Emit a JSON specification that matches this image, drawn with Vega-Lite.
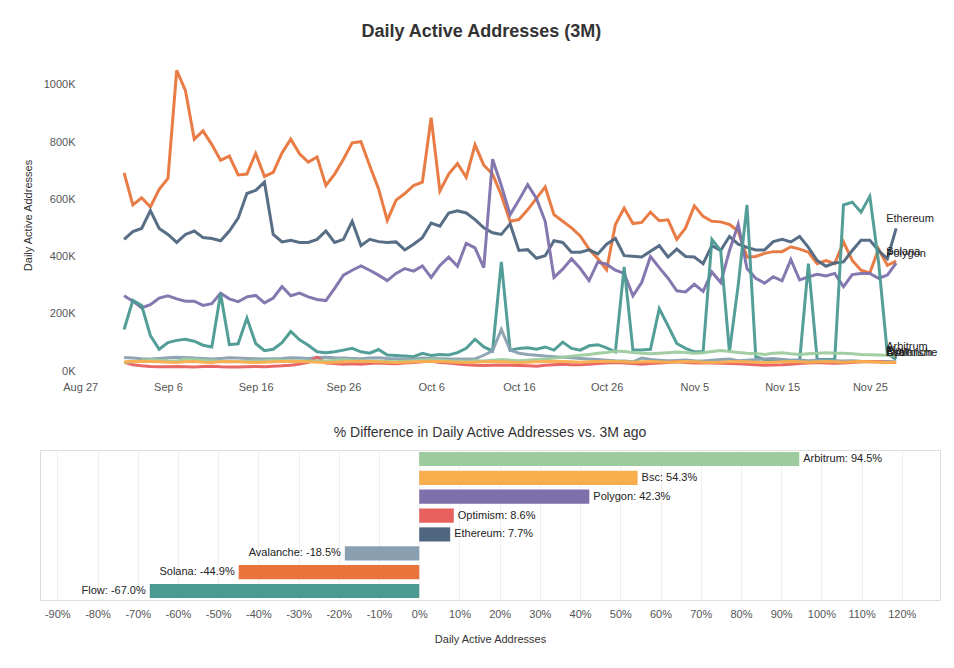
{
  "$schema": "https://vega.github.io/schema/vega-lite/v6.json",
  "background": "white",
  "padding": {"left": 22, "top": 23, "right": 10, "bottom": 10},
  "title": {"text": "Daily Active Addresses (3M)", "fontSize": 18, "fontWeight": "bold", "color": "#333", "font": "Arial", "anchor": "middle", "offset": 18},
  "config": {"font": "Arial", "axis": {"labelColor": "#555", "titleColor": "#333", "labelFontSize": 11, "titleFontSize": 11, "titleFontWeight": "normal"}},
  "datasets": {
    "daily": [
      {"d":"2022-09-01","Solana":692,"Ethereum":460,"Polygon":263,"Flow":145,"Avalanche":47,"Optimism":30,"Arbitrum":30,"Bsc":32},
      {"d":"2022-09-02","Solana":580,"Ethereum":487,"Polygon":244,"Flow":247,"Avalanche":45,"Optimism":22,"Arbitrum":32,"Bsc":33},
      {"d":"2022-09-03","Solana":605,"Ethereum":498,"Polygon":221,"Flow":229,"Avalanche":43,"Optimism":18,"Arbitrum":35,"Bsc":34},
      {"d":"2022-09-04","Solana":573,"Ethereum":560,"Polygon":232,"Flow":124,"Avalanche":42,"Optimism":16,"Arbitrum":40,"Bsc":33},
      {"d":"2022-09-05","Solana":635,"Ethereum":498,"Polygon":255,"Flow":76,"Avalanche":44,"Optimism":15,"Arbitrum":38,"Bsc":32},
      {"d":"2022-09-06","Solana":673,"Ethereum":477,"Polygon":263,"Flow":99,"Avalanche":46,"Optimism":15,"Arbitrum":36,"Bsc":31},
      {"d":"2022-09-07","Solana":1050,"Ethereum":449,"Polygon":252,"Flow":107,"Avalanche":48,"Optimism":16,"Arbitrum":35,"Bsc":30},
      {"d":"2022-09-08","Solana":979,"Ethereum":477,"Polygon":244,"Flow":111,"Avalanche":47,"Optimism":15,"Arbitrum":42,"Bsc":32},
      {"d":"2022-09-09","Solana":810,"Ethereum":489,"Polygon":244,"Flow":104,"Avalanche":45,"Optimism":14,"Arbitrum":40,"Bsc":33},
      {"d":"2022-09-10","Solana":839,"Ethereum":466,"Polygon":229,"Flow":90,"Avalanche":44,"Optimism":16,"Arbitrum":38,"Bsc":31},
      {"d":"2022-09-11","Solana":791,"Ethereum":463,"Polygon":235,"Flow":84,"Avalanche":42,"Optimism":17,"Arbitrum":36,"Bsc":30},
      {"d":"2022-09-12","Solana":736,"Ethereum":455,"Polygon":272,"Flow":270,"Avalanche":44,"Optimism":15,"Arbitrum":34,"Bsc":32},
      {"d":"2022-09-13","Solana":751,"Ethereum":489,"Polygon":252,"Flow":92,"Avalanche":46,"Optimism":14,"Arbitrum":32,"Bsc":33},
      {"d":"2022-09-14","Solana":685,"Ethereum":534,"Polygon":242,"Flow":95,"Avalanche":45,"Optimism":14,"Arbitrum":33,"Bsc":32},
      {"d":"2022-09-15","Solana":688,"Ethereum":620,"Polygon":259,"Flow":185,"Avalanche":44,"Optimism":15,"Arbitrum":34,"Bsc":31},
      {"d":"2022-09-16","Solana":760,"Ethereum":631,"Polygon":264,"Flow":96,"Avalanche":43,"Optimism":16,"Arbitrum":35,"Bsc":30},
      {"d":"2022-09-17","Solana":680,"Ethereum":660,"Polygon":238,"Flow":71,"Avalanche":42,"Optimism":15,"Arbitrum":36,"Bsc":31},
      {"d":"2022-09-18","Solana":694,"Ethereum":477,"Polygon":255,"Flow":76,"Avalanche":43,"Optimism":17,"Arbitrum":38,"Bsc":32},
      {"d":"2022-09-19","Solana":762,"Ethereum":451,"Polygon":295,"Flow":99,"Avalanche":44,"Optimism":18,"Arbitrum":37,"Bsc":33},
      {"d":"2022-09-20","Solana":810,"Ethereum":457,"Polygon":263,"Flow":138,"Avalanche":46,"Optimism":20,"Arbitrum":36,"Bsc":34},
      {"d":"2022-09-21","Solana":759,"Ethereum":449,"Polygon":272,"Flow":109,"Avalanche":45,"Optimism":24,"Arbitrum":35,"Bsc":33},
      {"d":"2022-09-22","Solana":730,"Ethereum":449,"Polygon":259,"Flow":90,"Avalanche":44,"Optimism":30,"Arbitrum":34,"Bsc":32},
      {"d":"2022-09-23","Solana":748,"Ethereum":460,"Polygon":250,"Flow":67,"Avalanche":47,"Optimism":48,"Arbitrum":36,"Bsc":31},
      {"d":"2022-09-24","Solana":648,"Ethereum":489,"Polygon":246,"Flow":64,"Avalanche":48,"Optimism":28,"Arbitrum":35,"Bsc":30},
      {"d":"2022-09-25","Solana":688,"Ethereum":449,"Polygon":289,"Flow":67,"Avalanche":46,"Optimism":26,"Arbitrum":38,"Bsc":31},
      {"d":"2022-09-26","Solana":740,"Ethereum":460,"Polygon":335,"Flow":73,"Avalanche":45,"Optimism":24,"Arbitrum":40,"Bsc":32},
      {"d":"2022-09-27","Solana":797,"Ethereum":523,"Polygon":352,"Flow":79,"Avalanche":44,"Optimism":25,"Arbitrum":37,"Bsc":33},
      {"d":"2022-09-28","Solana":801,"Ethereum":438,"Polygon":367,"Flow":67,"Avalanche":43,"Optimism":24,"Arbitrum":36,"Bsc":34},
      {"d":"2022-09-29","Solana":717,"Ethereum":460,"Polygon":352,"Flow":62,"Avalanche":45,"Optimism":26,"Arbitrum":35,"Bsc":33},
      {"d":"2022-09-30","Solana":637,"Ethereum":452,"Polygon":335,"Flow":75,"Avalanche":46,"Optimism":28,"Arbitrum":34,"Bsc":32},
      {"d":"2022-10-01","Solana":526,"Ethereum":449,"Polygon":316,"Flow":56,"Avalanche":44,"Optimism":26,"Arbitrum":33,"Bsc":31},
      {"d":"2022-10-02","Solana":597,"Ethereum":451,"Polygon":341,"Flow":54,"Avalanche":43,"Optimism":25,"Arbitrum":32,"Bsc":30},
      {"d":"2022-10-03","Solana":620,"Ethereum":423,"Polygon":358,"Flow":52,"Avalanche":42,"Optimism":28,"Arbitrum":34,"Bsc":31},
      {"d":"2022-10-04","Solana":648,"Ethereum":443,"Polygon":349,"Flow":50,"Avalanche":41,"Optimism":30,"Arbitrum":36,"Bsc":32},
      {"d":"2022-10-05","Solana":660,"Ethereum":466,"Polygon":367,"Flow":62,"Avalanche":45,"Optimism":32,"Arbitrum":38,"Bsc":33},
      {"d":"2022-10-06","Solana":885,"Ethereum":517,"Polygon":327,"Flow":54,"Avalanche":44,"Optimism":34,"Arbitrum":40,"Bsc":34},
      {"d":"2022-10-07","Solana":629,"Ethereum":506,"Polygon":369,"Flow":58,"Avalanche":43,"Optimism":30,"Arbitrum":38,"Bsc":33},
      {"d":"2022-10-08","Solana":688,"Ethereum":552,"Polygon":398,"Flow":56,"Avalanche":42,"Optimism":28,"Arbitrum":36,"Bsc":32},
      {"d":"2022-10-09","Solana":725,"Ethereum":560,"Polygon":366,"Flow":64,"Avalanche":42,"Optimism":24,"Arbitrum":35,"Bsc":31},
      {"d":"2022-10-10","Solana":677,"Ethereum":552,"Polygon":446,"Flow":79,"Avalanche":42,"Optimism":22,"Arbitrum":34,"Bsc":30},
      {"d":"2022-10-11","Solana":790,"Ethereum":529,"Polygon":430,"Flow":111,"Avalanche":42,"Optimism":20,"Arbitrum":36,"Bsc":31},
      {"d":"2022-10-12","Solana":719,"Ethereum":500,"Polygon":361,"Flow":84,"Avalanche":55,"Optimism":19,"Arbitrum":35,"Bsc":32},
      {"d":"2022-10-13","Solana":688,"Ethereum":483,"Polygon":740,"Flow":70,"Avalanche":70,"Optimism":20,"Arbitrum":38,"Bsc":33},
      {"d":"2022-10-14","Solana":614,"Ethereum":477,"Polygon":648,"Flow":381,"Avalanche":145,"Optimism":21,"Arbitrum":40,"Bsc":32},
      {"d":"2022-10-15","Solana":523,"Ethereum":514,"Polygon":546,"Flow":73,"Avalanche":73,"Optimism":20,"Arbitrum":38,"Bsc":31},
      {"d":"2022-10-16","Solana":529,"Ethereum":421,"Polygon":597,"Flow":79,"Avalanche":62,"Optimism":19,"Arbitrum":36,"Bsc":30},
      {"d":"2022-10-17","Solana":563,"Ethereum":424,"Polygon":651,"Flow":81,"Avalanche":58,"Optimism":18,"Arbitrum":38,"Bsc":31},
      {"d":"2022-10-18","Solana":603,"Ethereum":394,"Polygon":603,"Flow":76,"Avalanche":55,"Optimism":17,"Arbitrum":40,"Bsc":32},
      {"d":"2022-10-19","Solana":643,"Ethereum":403,"Polygon":523,"Flow":84,"Avalanche":52,"Optimism":20,"Arbitrum":42,"Bsc":33},
      {"d":"2022-10-20","Solana":546,"Ethereum":455,"Polygon":327,"Flow":73,"Avalanche":50,"Optimism":22,"Arbitrum":45,"Bsc":34},
      {"d":"2022-10-21","Solana":523,"Ethereum":449,"Polygon":356,"Flow":101,"Avalanche":48,"Optimism":24,"Arbitrum":48,"Bsc":33},
      {"d":"2022-10-22","Solana":500,"Ethereum":415,"Polygon":392,"Flow":79,"Avalanche":46,"Optimism":22,"Arbitrum":52,"Bsc":32},
      {"d":"2022-10-23","Solana":472,"Ethereum":415,"Polygon":358,"Flow":73,"Avalanche":44,"Optimism":22,"Arbitrum":55,"Bsc":31},
      {"d":"2022-10-24","Solana":426,"Ethereum":423,"Polygon":316,"Flow":88,"Avalanche":42,"Optimism":24,"Arbitrum":58,"Bsc":32},
      {"d":"2022-10-25","Solana":392,"Ethereum":409,"Polygon":381,"Flow":92,"Avalanche":40,"Optimism":26,"Arbitrum":62,"Bsc":33},
      {"d":"2022-10-26","Solana":354,"Ethereum":443,"Polygon":373,"Flow":81,"Avalanche":38,"Optimism":28,"Arbitrum":65,"Bsc":34},
      {"d":"2022-10-27","Solana":512,"Ethereum":463,"Polygon":352,"Flow":67,"Avalanche":36,"Optimism":30,"Arbitrum":70,"Bsc":33},
      {"d":"2022-10-28","Solana":569,"Ethereum":403,"Polygon":341,"Flow":364,"Avalanche":35,"Optimism":28,"Arbitrum":68,"Bsc":32},
      {"d":"2022-10-29","Solana":515,"Ethereum":401,"Polygon":263,"Flow":73,"Avalanche":32,"Optimism":26,"Arbitrum":65,"Bsc":31},
      {"d":"2022-10-30","Solana":519,"Ethereum":398,"Polygon":309,"Flow":73,"Avalanche":45,"Optimism":24,"Arbitrum":62,"Bsc":32},
      {"d":"2022-10-31","Solana":555,"Ethereum":418,"Polygon":400,"Flow":76,"Avalanche":40,"Optimism":26,"Arbitrum":60,"Bsc":33},
      {"d":"2022-11-01","Solana":525,"Ethereum":438,"Polygon":361,"Flow":218,"Avalanche":38,"Optimism":28,"Arbitrum":62,"Bsc":32},
      {"d":"2022-11-02","Solana":528,"Ethereum":398,"Polygon":324,"Flow":158,"Avalanche":36,"Optimism":30,"Arbitrum":64,"Bsc":31},
      {"d":"2022-11-03","Solana":460,"Ethereum":426,"Polygon":280,"Flow":96,"Avalanche":37,"Optimism":32,"Arbitrum":66,"Bsc":32},
      {"d":"2022-11-04","Solana":500,"Ethereum":400,"Polygon":276,"Flow":79,"Avalanche":38,"Optimism":30,"Arbitrum":65,"Bsc":33},
      {"d":"2022-11-05","Solana":577,"Ethereum":398,"Polygon":303,"Flow":67,"Avalanche":36,"Optimism":28,"Arbitrum":62,"Bsc":32},
      {"d":"2022-11-06","Solana":540,"Ethereum":375,"Polygon":278,"Flow":67,"Avalanche":35,"Optimism":29,"Arbitrum":64,"Bsc":31},
      {"d":"2022-11-07","Solana":523,"Ethereum":438,"Polygon":346,"Flow":460,"Avalanche":38,"Optimism":28,"Arbitrum":68,"Bsc":30},
      {"d":"2022-11-08","Solana":521,"Ethereum":421,"Polygon":309,"Flow":421,"Avalanche":40,"Optimism":27,"Arbitrum":72,"Bsc":31},
      {"d":"2022-11-09","Solana":512,"Ethereum":470,"Polygon":420,"Flow":67,"Avalanche":42,"Optimism":26,"Arbitrum":68,"Bsc":32},
      {"d":"2022-11-10","Solana":489,"Ethereum":443,"Polygon":512,"Flow":300,"Avalanche":36,"Optimism":25,"Arbitrum":65,"Bsc":33},
      {"d":"2022-11-11","Solana":398,"Ethereum":432,"Polygon":358,"Flow":580,"Avalanche":38,"Optimism":24,"Arbitrum":62,"Bsc":32},
      {"d":"2022-11-12","Solana":400,"Ethereum":423,"Polygon":324,"Flow":50,"Avalanche":40,"Optimism":22,"Arbitrum":60,"Bsc":31},
      {"d":"2022-11-13","Solana":411,"Ethereum":423,"Polygon":307,"Flow":40,"Avalanche":42,"Optimism":20,"Arbitrum":58,"Bsc":30},
      {"d":"2022-11-14","Solana":417,"Ethereum":452,"Polygon":329,"Flow":40,"Avalanche":44,"Optimism":21,"Arbitrum":62,"Bsc":31},
      {"d":"2022-11-15","Solana":417,"Ethereum":460,"Polygon":315,"Flow":40,"Avalanche":40,"Optimism":22,"Arbitrum":64,"Bsc":32},
      {"d":"2022-11-16","Solana":434,"Ethereum":451,"Polygon":389,"Flow":35,"Avalanche":38,"Optimism":24,"Arbitrum":60,"Bsc":33},
      {"d":"2022-11-17","Solana":426,"Ethereum":470,"Polygon":318,"Flow":35,"Avalanche":38,"Optimism":26,"Arbitrum":58,"Bsc":32},
      {"d":"2022-11-18","Solana":415,"Ethereum":432,"Polygon":329,"Flow":375,"Avalanche":36,"Optimism":28,"Arbitrum":60,"Bsc":31},
      {"d":"2022-11-19","Solana":375,"Ethereum":386,"Polygon":338,"Flow":40,"Avalanche":38,"Optimism":30,"Arbitrum":62,"Bsc":32},
      {"d":"2022-11-20","Solana":386,"Ethereum":366,"Polygon":332,"Flow":40,"Avalanche":37,"Optimism":28,"Arbitrum":64,"Bsc":33},
      {"d":"2022-11-21","Solana":375,"Ethereum":377,"Polygon":341,"Flow":40,"Avalanche":36,"Optimism":27,"Arbitrum":62,"Bsc":32},
      {"d":"2022-11-22","Solana":451,"Ethereum":381,"Polygon":295,"Flow":580,"Avalanche":35,"Optimism":28,"Arbitrum":62,"Bsc":31},
      {"d":"2022-11-23","Solana":386,"Ethereum":421,"Polygon":337,"Flow":590,"Avalanche":36,"Optimism":30,"Arbitrum":60,"Bsc":32},
      {"d":"2022-11-24","Solana":352,"Ethereum":457,"Polygon":341,"Flow":555,"Avalanche":34,"Optimism":32,"Arbitrum":58,"Bsc":33},
      {"d":"2022-11-25","Solana":343,"Ethereum":457,"Polygon":341,"Flow":610,"Avalanche":33,"Optimism":33,"Arbitrum":57,"Bsc":32},
      {"d":"2022-11-26","Solana":426,"Ethereum":421,"Polygon":324,"Flow":380,"Avalanche":32,"Optimism":32,"Arbitrum":56,"Bsc":31},
      {"d":"2022-11-27","Solana":369,"Ethereum":392,"Polygon":335,"Flow":60,"Avalanche":33,"Optimism":31,"Arbitrum":55,"Bsc":30},
      {"d":"2022-11-28","Solana":384,"Ethereum":498,"Polygon":377,"Flow":40,"Avalanche":32,"Optimism":30,"Arbitrum":54,"Bsc":31}
    ],
    "change": [
      {"chain":"Arbitrum","pct":94.5,"label":"Arbitrum: 94.5%"},
      {"chain":"Bsc","pct":54.3,"label":"Bsc: 54.3%"},
      {"chain":"Polygon","pct":42.3,"label":"Polygon: 42.3%"},
      {"chain":"Optimism","pct":8.6,"label":"Optimism: 8.6%"},
      {"chain":"Ethereum","pct":7.7,"label":"Ethereum: 7.7%"},
      {"chain":"Avalanche","pct":-18.5,"label":"Avalanche: -18.5%"},
      {"chain":"Solana","pct":-44.9,"label":"Solana: -44.9%"},
      {"chain":"Flow","pct":-67.0,"label":"Flow: -67.0%"}
    ],
    "grid": [{"y": 0}, {"y": 200}, {"y": 400}, {"y": 600}, {"y": 800}, {"y": 1000}]
  },
  "spacing": 33,
  "vconcat": [
    {
      "width": 900,
      "height": 312,
      "view": {"stroke": null},
      "encoding": {
        "x": {"field": "d", "type": "temporal", "title": null,
          "scale": {"domain": ["2022-08-22 10:00", "2022-12-03"]},
          "axis": {"values": ["2022-08-27","2022-09-06","2022-09-16","2022-09-26","2022-10-06","2022-10-16","2022-10-26","2022-11-05","2022-11-15","2022-11-25"],
            "format": "%b %-d", "grid": false, "domain": false, "ticks": false, "labelPadding": 10}},
        "y": {"field": "v", "type": "quantitative", "title": "Daily Active Addresses",
          "scale": {"domain": [0, 1090], "nice": false},
          "axis": {"values": [0, 200, 400, 600, 800, 1000], "labelExpr": "datum.value + 'K'", "domain": false, "ticks": false, "grid": false, "offset": -40, "labelPadding": 5, "titlePadding": 10}}
      },
      "layer": [
        {
          "data": {"name": "grid"},
          "mark": {"type": "rule", "color": "#e8e8e8", "strokeWidth": 1},
          "encoding": {
            "x": {"datum": {"year": 2022, "month": 8, "date": 27}, "type": "temporal"},
            "x2": {"datum": {"year": 2022, "month": 12, "date": 3}},
            "y": {"field": "y", "type": "quantitative"}
          }
        },
        {
          "data": {"name": "daily"},
          "transform": [
            {"fold": ["Solana", "Ethereum", "Polygon", "Flow", "Avalanche", "Optimism", "Arbitrum", "Bsc"], "as": ["chain", "v"]}
          ],
          "mark": {"type": "line", "strokeWidth": 3, "opacity": 0.95},
          "encoding": {
            "color": {"field": "chain", "type": "nominal", "legend": null,
              "scale": {"domain": ["Solana", "Ethereum", "Polygon", "Flow", "Avalanche", "Optimism", "Arbitrum", "Bsc"],
                "range": ["#E8743B", "#4E6680", "#7E70AB", "#4A9A92", "#8AA0B0", "#E8605E", "#9DCB9E", "#F9AE4E"]}}
          }
        },
        {
          "data": {"name": "daily"},
          "transform": [
            {"fold": ["Solana", "Ethereum", "Polygon", "Flow", "Avalanche", "Optimism", "Arbitrum", "Bsc"], "as": ["chain", "v"]},
            {"aggregate": [{"op": "argmax", "field": "d", "as": "last"}], "groupby": ["chain"]},
            {"calculate": "datum.last.d", "as": "ld"},
            {"calculate": "datum.last.v", "as": "lv"}
          ],
          "mark": {"type": "text", "align": "left", "dx": -10, "dy": -9, "fontSize": 11, "color": "#222"},
          "encoding": {
            "x": {"field": "ld", "type": "temporal"},
            "y": {"field": "lv", "type": "quantitative"},
            "text": {"field": "chain"}
          }
        }
      ]
    },
    {
      "width": 900,
      "height": 150,
      "view": {"stroke": "#ddd"},
      "title": {"text": "% Difference in Daily Active Addresses vs. 3M ago", "fontSize": 14, "fontWeight": "normal", "color": "#333", "offset": 10},
      "data": {"name": "change"},
      "encoding": {
        "y": {"field": "chain", "type": "nominal", "sort": "-x", "title": null, "axis": null,
          "scale": {"paddingInner": 0.25, "paddingOuter": 0.1}},
        "x": {"field": "pct", "type": "quantitative", "title": "Daily Active Addresses",
          "scale": {"domain": [-94.3, 129.5], "nice": false},
          "axis": {"values": [-90,-80,-70,-60,-50,-40,-30,-20,-10,0,10,20,30,40,50,60,70,80,90,100,110,120],
            "labelExpr": "datum.value + '%'", "gridColor": "#eeeeee", "domain": false, "ticks": false, "labelPadding": 8, "titlePadding": 14}}
      },
      "layer": [
        {"mark": {"type": "bar"},
          "encoding": {"color": {"field": "chain", "type": "nominal", "legend": null,
            "scale": {"domain": ["Solana", "Ethereum", "Polygon", "Flow", "Avalanche", "Optimism", "Arbitrum", "Bsc"],
              "range": ["#E8743B", "#4E6680", "#7E70AB", "#4A9A92", "#8AA0B0", "#E8605E", "#9DCB9E", "#F9AE4E"]}}}},
        {"mark": {"type": "text", "fontSize": 11, "color": "#222",
            "align": {"expr": "datum.pct < 0 ? 'right' : 'left'"},
            "dx": {"expr": "datum.pct < 0 ? -4 : 4"}},
          "encoding": {"text": {"field": "label"}}}
      ]
    }
  ]
}
